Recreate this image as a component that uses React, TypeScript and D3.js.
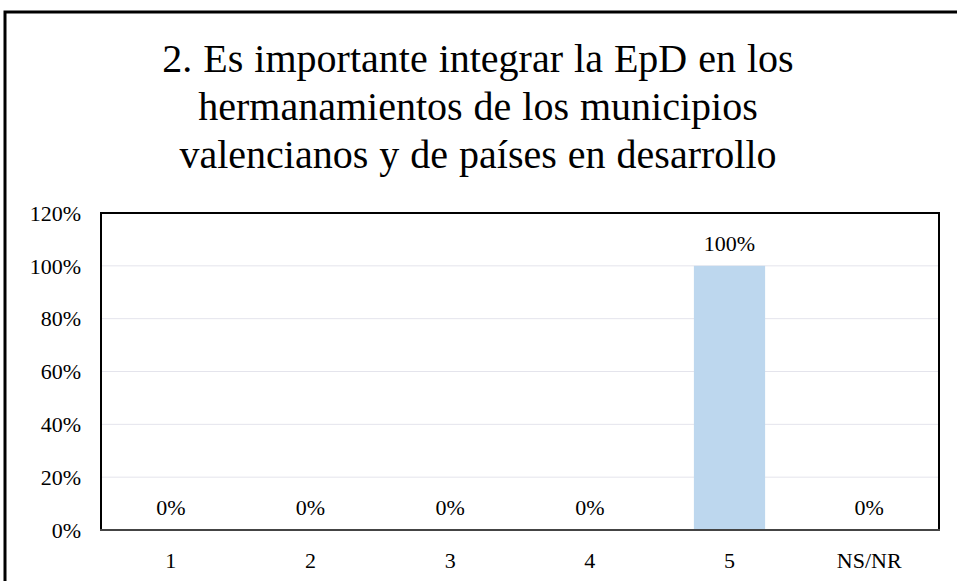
import React, { useEffect, useRef } from "react"
import * as d3 from "d3"

const titleLines = [
  "2. Es importante integrar la EpD en los",
  "hermanamientos de los municipios",
  "valencianos y de países en desarrollo",
]
const categories = ["1", "2", "3", "4", "5", "NS/NR"]
const values = [0, 0, 0, 0, 1, 0]
const yTicks = [0, 0.2, 0.4, 0.6, 0.8, 1.0, 1.2]

const WIDTH = 957
const HEIGHT = 581
const FONT = "Liberation Serif"

function App() {
  const svgRef = useRef<SVGSVGElement>(null)

  useEffect(() => {
    const svg = d3.select(svgRef.current)
    svg.selectAll("*").remove()

    const plot = { left: 101, right: 939, top: 213, bottom: 530 }

    // outer frame: left and top only visible
    svg.append("path")
      .attr("d", `M5,${HEIGHT} L5,12 L${WIDTH},12`)
      .attr("fill", "none")
      .attr("stroke", "#000")
      .attr("stroke-width", 3)

    // title
    svg.append("g").selectAll("text")
      .data(titleLines)
      .enter().append("text")
      .attr("x", 478)
      .attr("y", (d, i) => 72 + i * 48)
      .attr("text-anchor", "middle")
      .style("font-family", FONT)
      .style("font-size", "40px")
      .style("word-spacing", "1px")
      .attr("fill", "#000")
      .text(d => d)

    const x = d3.scaleBand()
      .domain(categories)
      .range([plot.left, plot.right])
      .paddingInner(0.49)
      .paddingOuter(0.245)

    const y = d3.scaleLinear()
      .domain([0, 1.2])
      .range([plot.bottom, plot.top])

    // gridlines
    svg.append("g").selectAll("line")
      .data(yTicks.slice(1, -1))
      .enter().append("line")
      .attr("x1", plot.left)
      .attr("x2", plot.right)
      .attr("y1", d => y(d))
      .attr("y2", d => y(d))
      .attr("stroke", "#e4e4ec")
      .attr("stroke-width", 1)

    // y tick labels
    svg.append("g").selectAll("text")
      .data(yTicks)
      .enter().append("text")
      .attr("x", 81)
      .attr("y", d => y(d))
      .attr("dy", "0.35em")
      .attr("text-anchor", "end")
      .style("font-family", FONT)
      .style("font-size", "22px")
      .attr("fill", "#000")
      .text(d => d3.format(".0%")(d))

    // bars
    svg.append("g").selectAll("rect")
      .data(values)
      .enter().append("rect")
      .attr("x", (d, i) => x(categories[i])!)
      .attr("width", x.bandwidth())
      .attr("y", d => y(d))
      .attr("height", d => y(0) - y(d))
      .attr("fill", "#bdd7ee")

    // value labels
    svg.append("g").selectAll("text")
      .data(values)
      .enter().append("text")
      .attr("x", (d, i) => x(categories[i])! + x.bandwidth() / 2)
      .attr("y", d => y(d) - 15)
      .attr("text-anchor", "middle")
      .style("font-family", FONT)
      .style("font-size", "22px")
      .attr("fill", "#000")
      .text(d => d3.format(".0%")(d))

    // category labels
    svg.append("g").selectAll("text")
      .data(categories)
      .enter().append("text")
      .attr("x", d => x(d)! + x.bandwidth() / 2)
      .attr("y", 568)
      .attr("text-anchor", "middle")
      .style("font-family", FONT)
      .style("font-size", "22px")
      .attr("fill", "#000")
      .text(d => d)

    // plot frame
    svg.append("path")
      .attr("d", `M${plot.left},${plot.bottom} L${plot.left},${plot.top} L${plot.right},${plot.top} L${plot.right},${plot.bottom}`)
      .attr("fill", "none")
      .attr("stroke", "#000")
      .attr("stroke-width", 2)
    svg.append("line")
      .attr("x1", plot.left - 1)
      .attr("x2", plot.right + 1)
      .attr("y1", plot.bottom)
      .attr("y2", plot.bottom)
      .attr("stroke", "#444")
      .attr("stroke-width", 2)
  }, [])

  return (
    <svg
      ref={svgRef}
      width={WIDTH}
      height={HEIGHT}
      style={{ position: "absolute", left: 0, top: 0, background: "#fff" }}
    ></svg>
  )
}

export default App
